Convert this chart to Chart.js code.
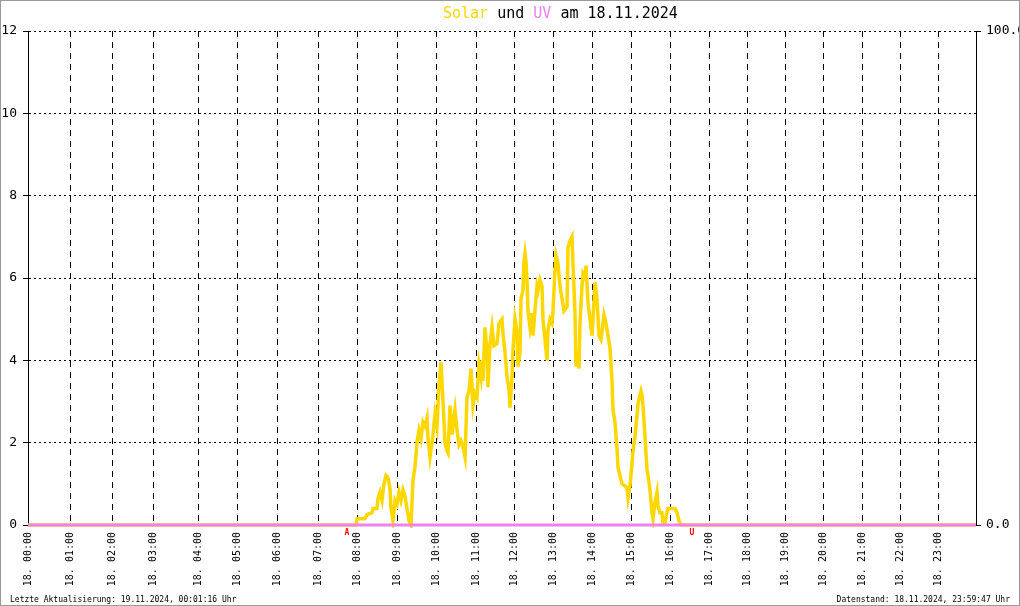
<!DOCTYPE html>
<html>
<head>
<meta charset="utf-8">
<title>Solar und UV am 18.11.2024</title>
<script src="https://cdn.jsdelivr.net/npm/chart.js@4/dist/chart.umd.min.js"></script>
<style>
  html, body { margin: 0; padding: 0; background: #fff; }
  #wrap { position: relative; width: 1020px; height: 606px; }
  #chart { display: block; }
</style>
</head>
<body>
<div id="wrap"><canvas id="chart" width="1020" height="606"></canvas></div>
<script>
'use strict';

// record index at which each hour starts (logger does not write evenly)
var hourRecords = [0, 42, 84, 125, 170, 209, 249, 290, 329, 369, 408, 448, 486, 525, 564, 603, 642, 681, 719, 757, 795, 834, 872, 910];
var hourLabels = ['18. 00:00', '18. 01:00', '18. 02:00', '18. 03:00', '18. 04:00', '18. 05:00', '18. 06:00', '18. 07:00',
  '18. 08:00', '18. 09:00', '18. 10:00', '18. 11:00', '18. 12:00', '18. 13:00', '18. 14:00', '18. 15:00',
  '18. 16:00', '18. 17:00', '18. 18:00', '18. 19:00', '18. 20:00', '18. 21:00', '18. 22:00', '18. 23:00'];
var lastRecord = 948;

var solarRecords = [0, 328, 329, 337, 339, 344, 345, 349, 350, 352, 354, 356, 358, 360, 362, 363, 365, 367, 369, 371,
  373, 375, 377, 379, 381, 383, 385, 387, 389, 391, 393, 395, 397, 399, 400, 402, 405, 407, 409, 411,
  413, 415, 417, 419, 420, 422, 424, 425, 427, 429, 431, 433, 435, 437, 439, 441, 443, 445, 447, 449,
  451, 453, 454, 455, 457, 459, 460, 462, 464, 466, 469, 471, 474, 475, 477, 479, 481, 482, 484, 485,
  487, 489, 490, 492, 493, 495, 496, 497, 498, 499, 500, 502, 504, 505, 507, 509, 510, 512, 514, 515,
  517, 519, 520, 522, 524, 525, 527, 528, 530, 532, 534, 536, 539, 540, 542, 544, 545, 547, 548, 550,
  551, 552, 554, 555, 557, 558, 560, 562, 564, 565, 567, 569, 571, 573, 575, 576, 578, 580, 582, 584,
  585, 587, 589, 590, 592, 594, 597, 599, 600, 602, 604, 605, 607, 609, 610, 612, 613, 614, 615, 617,
  619, 620, 622, 624, 625, 627, 629, 630, 632, 634, 635, 637, 639, 640, 647, 649, 651, 653, 948];
var solarValues = [0, 0, 0.15, 0.15, 0.25, 0.3, 0.4, 0.4, 0.65, 0.8, 0.6, 1.0, 1.2, 1.15, 0.9, 0.4, 0.1, 0.6, 0.5, 0.8,
  0.6, 0.85, 0.7, 0.4, 0.1, 0.0, 1.1, 1.4, 2.0, 2.3, 2.1, 2.5, 2.4, 2.6, 2.1, 1.65, 2.2, 2.7, 2.4, 3.4,
  3.95, 3.0, 2.0, 1.8, 1.75, 2.9, 2.2, 2.4, 2.8, 2.3, 1.95, 2.05, 1.9, 1.65, 3.1, 3.25, 3.8, 2.9, 3.2, 3.1,
  3.9, 3.6, 4.0, 3.5, 4.8, 4.2, 3.35, 4.4, 4.8, 4.35, 4.4, 4.9, 5.0, 4.65, 4.2, 3.6, 3.3, 2.85, 3.6, 4.25,
  5.0, 4.7, 3.85, 4.2, 5.5, 5.7, 6.4, 6.6, 6.4, 5.95, 5.2, 4.8, 5.15, 4.6, 5.2, 5.8, 5.7, 5.95, 5.8, 5.0,
  4.5, 4.0, 4.75, 5.0, 4.9, 5.2, 6.2, 6.55, 6.35, 5.8, 5.5, 5.2, 5.3, 6.75, 6.9, 7.0, 6.35, 5.15, 3.85, 4.2,
  3.8, 4.9, 5.8, 6.1, 6.0, 6.3, 5.4, 5.0, 4.6, 5.0, 5.9, 5.5, 4.6, 4.5, 4.9, 5.1, 4.9, 4.6, 4.3, 3.5,
  2.8, 2.5, 1.85, 1.4, 1.2, 1.0, 0.95, 0.9, 0.65, 0.95, 1.5, 1.8, 2.15, 2.65, 2.95, 3.15, 3.25, 3.15, 2.9, 2.15,
  1.35, 1.2, 0.85, 0.3, 0.15, 0.55, 0.8, 0.45, 0.3, 0.3, 0.05, 0.05, 0.3, 0.4, 0.4, 0.3, 0.1, 0, 0];

var uvRecords = [0, lastRecord];
var uvValues = [0, 0];

// sunrise (Aufgang) and sunset (Untergang)
var sunMarks = ['A', 'U'];
var sunRecords = [319, 664];

var solarColor = '#ffd700';
var uvColor = '#ee82ee';
var mono = 'DejaVu Sans Mono';

function toPoints(xs, ys) {
  return xs.map(function(x, i) { return {x: x, y: ys[i]}; });
}

var frameText = {
  id: 'frameText',
  afterDraw: function(chart) {
    var ctx = chart.ctx;
    ctx.save();
    ctx.textBaseline = 'alphabetic';

    // title with coloured words
    ctx.font = '15px "' + mono + '"';
    var parts = [['Solar', solarColor], [' und ', '#000'], ['UV', uvColor], [' am 18.11.2024', '#000']];
    var x = 443;
    parts.forEach(function(p) {
      ctx.fillStyle = p[1];
      ctx.textAlign = 'left';
      ctx.fillText(p[0], x, 18);
      x += ctx.measureText(p[0]).width;
    });

    ctx.font = '8px "' + mono + '"';
    ctx.fillStyle = '#000';
    ctx.textAlign = 'left';
    ctx.fillText('Letzte Aktualisierung: 19.11.2024, 00:01:16 Uhr', 10, 602);
    ctx.textAlign = 'right';
    ctx.fillText('Datenstand: 18.11.2024, 23:59:47 Uhr', 1010, 602);

    var xs = chart.scales.x;
    ctx.font = 'bold 8px "' + mono + '"';
    ctx.fillStyle = '#ff0000';
    ctx.textAlign = 'center';
    sunMarks.forEach(function(m, i) {
      ctx.fillText(m, xs.getPixelForValue(sunRecords[i]), 535);
    });

    ctx.strokeStyle = '#999';
    ctx.lineWidth = 1;
    ctx.strokeRect(0.5, 0.5, 1019, 605);
    ctx.restore();
  }
};

// UV first so that it is painted on top of the solar line
var chart = new Chart(document.getElementById('chart'), {
  type: 'line',
  data: {
    datasets: [{
      label: 'UV',
      data: toPoints(uvRecords, uvValues),
      borderColor: uvColor,
      borderWidth: 3,
      pointRadius: 0,
      tension: 0,
      clip: 3,
      yAxisID: 'y2'
    }, {
      label: 'Solar',
      data: toPoints(solarRecords, solarValues),
      borderColor: solarColor,
      borderWidth: 3.5,
      pointRadius: 0,
      tension: 0,
      clip: 3,
      yAxisID: 'y'
    }]
  },
  options: {
    responsive: false,
    animation: false,
    layout: {padding: {top: 31, left: 0, right: 0, bottom: 0}},
    plugins: {
      legend: {display: false},
      title: {display: false},
      tooltip: {enabled: false}
    },
    scales: {
      x: {
        type: 'linear',
        min: 0,
        max: lastRecord,
        afterBuildTicks: function(scale) {
          scale.ticks = hourRecords.map(function(v) { return {value: v}; });
        },
        afterFit: function(scale) { scale.height = 81; },
        grid: {color: '#000', lineWidth: 1, drawTicks: false},
        border: {display: false, dash: [6, 5]},
        ticks: {
          autoSkip: false,
          minRotation: 90,
          maxRotation: 90,
          padding: 7,
          color: '#000',
          font: {family: mono, size: 10},
          callback: function(value) {
            var i = hourRecords.indexOf(value);
            return i < 0 ? '' : hourLabels[i];
          }
        }
      },
      y: {
        position: 'left',
        min: 0,
        max: 12,
        afterFit: function(scale) { scale.width = 28; },
        grid: {color: '#000', lineWidth: 1, tickLength: 5},
        border: {display: true, color: '#000', width: 1, dash: [2, 3]},
        ticks: {stepSize: 2, padding: 6, color: '#000', font: {family: mono, size: 13}}
      },
      y2: {
        position: 'right',
        min: 0,
        max: 100,
        afterBuildTicks: function(scale) {
          scale.ticks = [{value: 0}, {value: 100}];
        },
        afterFit: function(scale) { scale.width = 44; },
        grid: {drawOnChartArea: false, color: '#000', tickLength: 5},
        border: {display: true, color: '#000', width: 1},
        ticks: {
          padding: 5,
          color: '#000',
          font: {family: mono, size: 13},
          callback: function(value) { return value.toFixed(1); }
        }
      }
    }
  },
  plugins: [frameText]
});
</script>
</body>
</html>
